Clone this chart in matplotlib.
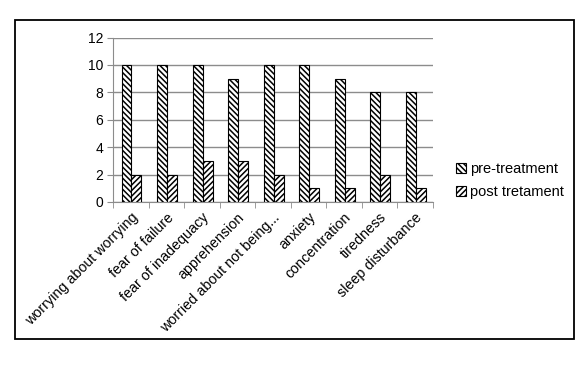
import numpy as np
import matplotlib as mpl
mpl.use('Agg')
import matplotlib.pyplot as plt
from matplotlib.patches import Rectangle

categories = ["worrying about worrying", "fear of failure", "fear of inadequacy",
              "apprehension", "worried about not being...", "anxiety",
              "concentration", "tiredness", "sleep disturbance"]
pre_treatment = [10, 10, 10, 9, 10, 10, 9, 8, 8]
post_treatment = [2, 2, 3, 3, 2, 1, 1, 2, 1]
series_names = ["pre-treatment", "post tretament"]

plt.rcParams['font.family'] = ['Liberation Sans', 'DejaVu Sans']
plt.rcParams['hatch.linewidth'] = 1.1

fig = plt.figure(figsize=(5.86, 3.66), dpi=100)
# outer border of the chart area
fig.patches.append(Rectangle((15 / 586, 1 - 339 / 366), 559 / 586, 319 / 366,
                             transform=fig.transFigure, fill=False,
                             edgecolor='black', linewidth=1.3))

ax = fig.add_axes([113 / 586, 1 - 202 / 366, 320 / 586, 164.5 / 366])
x = np.arange(len(categories))
w = 0.28
ax.bar(x - w / 2 + 0.02, pre_treatment, w, color='white', edgecolor='black',
       hatch='\\\\\\\\\\\\', linewidth=0.8, label=series_names[0], zorder=3)
ax.bar(x + w / 2 + 0.02, post_treatment, w, color='white', edgecolor='black',
       hatch='//////', linewidth=0.8, label=series_names[1], zorder=3)

ax.set_xlim(-0.5, len(categories) - 0.5)
ax.set_ylim(0, 12)
ax.set_yticks(range(0, 13, 2))
ax.yaxis.grid(True, color='#8c8c8c', linewidth=1)
ax.set_axisbelow(True)
for s in ['top', 'right']:
    ax.spines[s].set_visible(False)
ax.spines['left'].set_color('#8c8c8c')
ax.spines['bottom'].set_color('#8c8c8c')
ax.tick_params(axis='y', length=4, color='#8c8c8c', labelsize=10, pad=3)
ax.set_xticks(x)
ax.set_xticklabels(categories, rotation=45, ha='right', rotation_mode='anchor',
                   fontsize=10.3)
ax.tick_params(axis='x', length=0, pad=6)
ax.set_xticks(np.arange(-0.5, len(categories)), minor=True)
ax.tick_params(axis='x', which='minor', length=4, color='#8c8c8c')

ax.legend(loc='center left', bbox_to_anchor=(1.03, 0.13), frameon=False,
          fontsize=10.5, handlelength=0.7, handleheight=0.7, handletextpad=0.3,
          labelspacing=0.65)

fig.savefig("out.png", dpi=100)
